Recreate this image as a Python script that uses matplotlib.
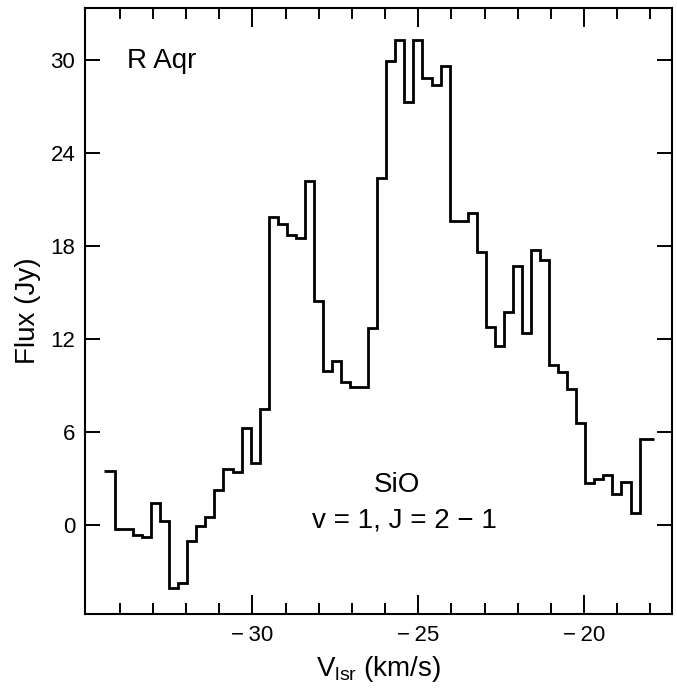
import numpy as np
import matplotlib
matplotlib.use("Agg")
import matplotlib.pyplot as plt
from matplotlib.ticker import FixedLocator, FuncFormatter

plt.rcParams['font.family'] = ['Liberation Sans', 'DejaVu Sans']
plt.rcParams['mathtext.fontset'] = 'custom'
plt.rcParams['mathtext.rm'] = 'Liberation Sans'
plt.rcParams['mathtext.it'] = 'Liberation Sans:italic'

# Spectrum data (flux in Jy per channel)
flux = [3.50, -0.28, -0.28, -0.65, -0.80, 1.44, 0.26, -4.04, -3.72, -1.03,
        -0.06, 0.54, 2.26, 3.61, 3.44, 6.24, 4.02, 7.48, 19.89, 19.40,
        18.75, 18.54, 22.19, 14.45, 9.94, 10.58, 9.23, 8.90, 8.90, 12.69,
        22.37, 29.96, 31.29, 27.31, 31.33, 28.88, 28.39, 29.61, 19.62, 19.62,
        20.15, 17.63, 12.80, 11.55, 13.76, 16.71, 12.37, 17.74, 17.10, 10.32,
        9.89, 8.75, 6.60, 2.73, 2.95, 3.23, 2.00, 2.80, 0.80, 5.53]
v_start = -34.47
v_end = -17.885
v_first_inner = -34.148
chan_width = 0.27275

x_major = [-30, -25, -20]
x_minor = list(range(-34, -17))
y_major = [0, 6, 12, 18, 24, 30]

edges = np.concatenate([[v_start],
                        v_first_inner + chan_width * np.arange(len(flux) - 1),
                        [v_end]])

fig = plt.figure(figsize=(6.77, 6.89), dpi=100)
ax = fig.add_axes([85/677, 1 - 614/689, (672-85)/677, (614-7.5)/689])

ax.stairs(flux, edges, baseline=None, color='black', linewidth=2.0)

ax.set_xlim(-35.05, -17.35)
ax.set_ylim(-5.74, 33.4)

ax.xaxis.set_major_locator(FixedLocator(x_major))
ax.xaxis.set_minor_locator(FixedLocator([m for m in x_minor if m not in x_major]))
ax.yaxis.set_major_locator(FixedLocator(y_major))

def xfmt(v, pos):
    iv = int(round(v))
    if iv < 0:
        return '\u2212\u2009' + str(-iv)
    return str(iv)

ax.xaxis.set_major_formatter(FuncFormatter(xfmt))

ax.tick_params(axis='both', which='both', direction='in', top=True, right=True,
               width=1.4, labelsize=16)
ax.tick_params(axis='x', which='major', length=14, pad=8)
ax.tick_params(axis='x', which='minor', length=8)
ax.tick_params(axis='y', which='major', length=11, pad=7)

for s in ax.spines.values():
    s.set_linewidth(1.5)

ax.set_ylabel('Flux (Jy)', fontsize=20, labelpad=7)
ax.set_xlabel(r'V$_{\mathrm{lsr}}$ (km/s)', fontsize=20, labelpad=6)

ax.text(0.072, 0.900, 'R Aqr', transform=ax.transAxes, fontsize=20,
        ha='left', va='baseline')
ax.text(0.532, 0.201, 'SiO', transform=ax.transAxes, fontsize=20,
        ha='center', va='baseline')
ax.text(0.545, 0.142, 'v = 1, J = 2 \u2212 1', transform=ax.transAxes, fontsize=20,
        ha='center', va='baseline')

fig.savefig('out.png', dpi=100)
